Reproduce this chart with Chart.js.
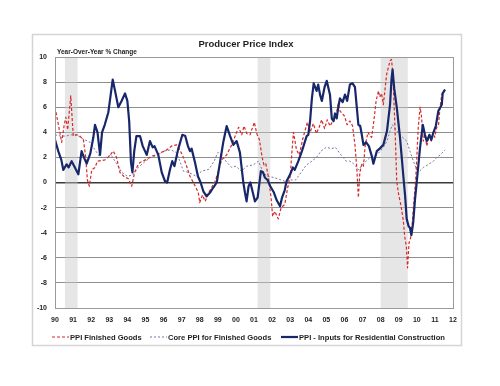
<!DOCTYPE html>
<html>
<head>
<meta charset="utf-8">
<title>Producer Price Index</title>
<script src="https://cdn.jsdelivr.net/npm/chart.js@4"></script>
<style>
  html, body { margin: 0; padding: 0; background: #fff; }
  #chart { display: block; }
</style>
</head>
<body>
<canvas id="chart" width="500" height="386"></canvas>
<script>
// 系列名
const seriesNames = ['PPI Finished Goods', 'Core PPI for Finished Goods', 'PPI - Inputs for Residential Construction'];

// PPI Finished Goods (前年比 %)
const ppiYears = [1990.00, 1990.20, 1990.37, 1990.50, 1990.60, 1990.70, 1990.87, 1991.01, 1991.20, 1991.38, 1991.57, 1991.70, 1991.79, 1991.90,
  1992.03, 1992.21, 1992.35, 1992.76, 1993.00, 1993.22, 1993.40, 1993.59, 1993.80, 1994.05, 1994.24, 1994.40, 1994.55, 1994.70,
  1995.00, 1995.34, 1995.62, 1995.85, 1996.08, 1996.45, 1996.72, 1996.90, 1997.10, 1997.30, 1997.46, 1997.65, 1997.92,
  1998.00, 1998.15, 1998.30, 1998.50, 1998.66, 1998.85, 1999.03, 1999.21, 1999.49, 1999.77, 2000.04, 2000.15, 2000.32, 2000.45,
  2000.60, 2000.78, 2001.02, 2001.15, 2001.30, 2001.45, 2001.55, 2001.65, 2001.79, 2001.95, 2002.03, 2002.15, 2002.34, 2002.50,
  2002.70, 2002.85, 2003.00, 2003.10, 2003.18, 2003.35, 2003.50, 2003.70, 2003.95, 2004.10, 2004.28, 2004.45, 2004.60, 2004.74,
  2004.90, 2005.05, 2005.20, 2005.40, 2005.55, 2005.66, 2005.75, 2006.00, 2006.15, 2006.30, 2006.45, 2006.58, 2006.68, 2006.77,
  2006.85, 2006.97, 2007.05, 2007.15, 2007.30, 2007.42, 2007.50, 2007.60, 2007.75, 2007.88, 2007.95, 2008.05, 2008.15, 2008.33,
  2008.52, 2008.60, 2008.68, 2008.80, 2008.89, 2009.00, 2009.12, 2009.25, 2009.33, 2009.42, 2009.49, 2009.57, 2009.66, 2009.75,
  2009.85, 2009.94, 2010.00, 2010.08, 2010.18, 2010.25, 2010.36, 2010.45, 2010.55, 2010.70, 2010.80, 2010.90, 2010.99, 2011.10,
  2011.20, 2011.28, 2011.38, 2011.47, 2011.56];
const ppiValues = [6.0, 4.5, 3.2, 4.5, 5.2, 4.2, 6.9, 3.7, 3.8, 3.7, 3.4, 2.0, 0.2, -0.3,
  1.0, 1.2, 1.7, 1.8, 2.1, 2.5, 2.0, 0.8, 0.5, 0.3, -0.3, 0.8, 1.3, 1.6,
  1.8, 2.1, 2.2, 2.4, 2.5, 2.9, 3.0, 2.6, 2.0, 1.2, 0.5, 0.0, -0.8,
  -1.6, -1.0, -1.5, -0.8, -0.4, 0.1, 0.9, 1.8, 2.2, 3.0, 4.0, 4.4, 3.8, 4.5,
  3.9, 3.8, 4.8, 3.9, 3.4, 2.0, 1.4, 1.5, 0.5, -1.3, -2.7, -2.3, -2.9, -2.0,
  -1.75, -0.5, 0.5, 2.5, 4.0, 2.6, 2.2, 3.5, 4.8, 4.0, 4.7, 3.9, 4.4, 5.0,
  4.3, 5.0, 4.5, 5.0, 5.4, 6.3, 5.7, 5.3, 4.6, 4.9, 4.5, 3.0, 1.2, -1.2,
  0.8, 1.5, 1.3, 3.0, 4.0, 3.7, 3.6, 4.6, 6.5, 7.3, 6.8, 7.1, 6.2, 8.6,
  9.7, 9.8, 8.6, 4.1, 0.1, -1.0, -1.8, -3.0, -4.3, -5.1, -6.8, -4.8, -4.4, -3.2,
  -1.35, 0.3, 2.0, 4.4, 6.0, 5.4, 3.3, 3.8, 2.9, 3.8, 3.3, 4.0, 3.6, 4.4,
  4.6, 5.95, 7.0, 7.3, 7.4];

// Core PPI for Finished Goods (前年比 %)
const coreYears = [1990.00, 1990.30, 1990.60, 1990.90, 1991.20, 1991.50, 1991.94, 1992.12, 1992.49, 1992.80, 1993.10, 1993.40,
  1993.70, 1994.00, 1994.30, 1994.60, 1995.00, 1995.30, 1995.70, 1996.00, 1996.40, 1996.70, 1996.90, 1997.10, 1997.40,
  1997.80, 1998.10, 1998.50, 1998.80, 1999.00, 1999.20, 1999.50, 1999.77, 2000.00, 2000.30, 2000.60, 2000.96, 2001.24,
  2001.45, 2001.70, 2002.10, 2002.70, 2003.00, 2003.30, 2003.60, 2003.90, 2004.20, 2004.45, 2004.70, 2004.99, 2005.30,
  2005.50, 2005.80, 2006.10, 2006.30, 2006.50, 2006.80, 2006.96, 2007.20, 2007.42, 2007.80, 2008.15, 2008.35, 2008.52,
  2008.65, 2008.80, 2009.07, 2009.44, 2009.62, 2009.81, 2010.00, 2010.15, 2010.36, 2010.60, 2010.92, 2011.10, 2011.30, 2011.56];
const coreValues = [3.8, 3.7, 3.7, 3.8, 3.8, 3.5, 3.2, 2.8, 2.0, 2.0, 2.2, 1.5,
  0.8, 0.5, 0.6, 1.2, 1.7, 2.0, 2.2, 2.5, 2.6, 2.4, 1.7, 0.9, 0.8,
  0.5, 0.9, 1.05, 1.7, 2.4, 2.2, 1.6, 1.2, 1.3, 0.9, 1.3, 1.4, 1.7,
  1.0, 0.5, 0.4, 0.1, 0.2, 0.2, 0.8, 1.4, 1.7, 2.0, 2.5, 2.8, 2.7,
  2.8, 2.2, 1.7, 1.7, 1.5, 1.0, 1.4, 1.7, 2.0, 2.2, 2.8, 3.3, 4.1,
  4.6, 4.3, 3.8, 3.3, 2.5, 1.7, 1.0, 0.9, 1.2, 1.4, 1.7, 2.0, 2.2, 2.6];

// PPI - Inputs for Residential Construction (前年比 %)
const resYears = [1990.00, 1990.18, 1990.35, 1990.46, 1990.64, 1990.75, 1990.92, 1991.10, 1991.29, 1991.47, 1991.60, 1991.75, 1991.95,
  1992.12, 1992.21, 1992.35, 1992.49, 1992.60, 1992.75, 1992.95, 1993.19, 1993.32, 1993.50, 1993.68, 1993.87, 1994.00, 1994.10,
  1994.20, 1994.28, 1994.38, 1994.50, 1994.70, 1994.85, 1995.07, 1995.25, 1995.40, 1995.50, 1995.71, 1995.90, 1996.08, 1996.20,
  1996.35, 1996.48, 1996.60, 1996.80, 1997.04, 1997.20, 1997.35, 1997.46, 1997.55, 1997.74, 1997.90, 1998.05, 1998.20, 1998.38,
  1998.57, 1998.75, 1998.94, 1999.12, 1999.30, 1999.49, 1999.68, 1999.86, 2000.04, 2000.22, 2000.41, 2000.50, 2000.59, 2000.70,
  2000.80, 2000.90, 2001.05, 2001.20, 2001.38, 2001.50, 2001.60, 2001.75, 2001.90, 2002.10, 2002.25, 2002.44, 2002.55, 2002.70,
  2002.80, 2003.00, 2003.15, 2003.25, 2003.45, 2003.65, 2003.91, 2004.00, 2004.10, 2004.20, 2004.30, 2004.46, 2004.55, 2004.65,
  2004.75, 2004.90, 2005.02, 2005.20, 2005.30, 2005.40, 2005.48, 2005.57, 2005.66, 2005.75, 2005.90, 2006.03, 2006.15, 2006.30,
  2006.45, 2006.58, 2006.77, 2006.87, 2006.96, 2007.05, 2007.20, 2007.35, 2007.51, 2007.60, 2007.79, 2007.95, 2008.15, 2008.35,
  2008.52, 2008.60, 2008.66, 2008.75, 2008.89, 2009.07, 2009.25, 2009.35, 2009.44, 2009.55, 2009.62, 2009.70, 2009.80, 2009.90,
  2010.00, 2010.18, 2010.33, 2010.45, 2010.55, 2010.70, 2010.80, 2010.92, 2011.05, 2011.19, 2011.30, 2011.38, 2011.43, 2011.56];
const resValues = [3.4, 2.5, 1.8, 1.0, 1.45, 1.2, 1.7, 1.2, 0.65, 2.5, 2.0, 1.5, 2.3,
  3.6, 4.6, 4.0, 2.2, 4.0, 4.6, 5.6, 8.2, 7.3, 6.0, 6.5, 7.1, 6.5, 4.9,
  1.6, 0.8, 2.5, 3.7, 3.7, 2.9, 2.2, 3.3, 2.8, 2.9, 2.2, 0.8, 0.1, 0.0,
  1.0, 1.7, 1.3, 2.6, 3.8, 3.7, 2.9, 2.5, 2.7, 1.6, 0.5, 0.0, -0.7, -1.1,
  -0.8, -0.4, 0.0, 1.6, 3.2, 4.5, 3.7, 3.0, 3.3, 2.4, 0.0, -0.8, -1.5, -0.3,
  0.0, -0.6, -1.5, -1.2, 0.9, 0.8, 0.4, 0.2, -0.3, -0.8, -1.4, -1.9, -1.2, -0.6,
  0.1, 0.65, 1.2, 1.0, 1.7, 2.5, 3.7, 3.8, 4.9, 6.7, 7.9, 7.3, 7.8, 7.0,
  6.5, 7.6, 8.1, 7.0, 5.1, 4.9, 5.5, 5.1, 6.0, 6.7, 6.4, 7.0, 6.5, 7.8,
  7.9, 7.6, 4.6, 4.5, 3.8, 3.0, 3.2, 2.9, 2.1, 1.5, 2.5, 2.7, 3.0, 4.1,
  6.2, 8.2, 9.0, 7.5, 6.0, 3.6, 0.6, -1.0, -2.9, -3.5, -3.6, -4.2, -3.2, -1.35,
  0.1, 2.8, 4.6, 3.8, 3.3, 3.8, 3.4, 4.0, 4.5, 5.7, 6.0, 6.2, 7.1, 7.4];

// 景気後退期 (網掛け)
const recessionStarts = [1990.55, 2001.2, 2008.0];
const recessionEnds = [1991.25, 2001.9, 2009.5];

// 軸の目盛り
const xMin = 1990, xMax = 2012;
const yMin = -10, yMax = 10, yStep = 2;

const toPoints = (xs, ys) => xs.map((x, i) => ({ x: x, y: ys[i] }));

const FONT = '"Liberation Sans", Arial, sans-serif';
const TEXT = '#1e1e1e';

// 枠・網掛け・タイトル・凡例を描くプラグイン
const decorPlugin = {
    id: 'decor',
    beforeDraw(chart) {
        const ctx = chart.ctx;
        ctx.save();
        ctx.fillStyle = '#ffffff';
        ctx.fillRect(0, 0, chart.width, chart.height);
        ctx.strokeStyle = '#d4d4d4';
        ctx.lineWidth = 1.5;
        ctx.strokeRect(32.5, 34.5, 429, 311);
        ctx.restore();
    },
    beforeDatasetsDraw(chart) {
        const ctx = chart.ctx;
        const area = chart.chartArea;
        const xs = chart.scales.x;
        ctx.save();
        ctx.fillStyle = 'rgba(200,200,200,0.45)';
        recessionStarts.forEach((s, i) => {
            const x0 = xs.getPixelForValue(s);
            const x1 = xs.getPixelForValue(recessionEnds[i]);
            ctx.fillRect(x0, area.top, x1 - x0, area.bottom - area.top);
        });
        ctx.restore();
    },
    afterDraw(chart) {
        const ctx = chart.ctx;
        const area = chart.chartArea;
        ctx.save();
        // プロット枠
        ctx.strokeStyle = '#9a9a9a';
        ctx.lineWidth = 1;
        ctx.strokeRect(area.left + 0.5, area.top + 0.5, area.right - area.left, area.bottom - area.top);

        // タイトル
        ctx.fillStyle = TEXT;
        ctx.textBaseline = 'middle';
        ctx.textAlign = 'center';
        ctx.font = 'bold 9.5px ' + FONT;
        ctx.fillText('Producer Price Index', 246, 44);
        ctx.textAlign = 'left';
        ctx.font = 'bold 6.5px ' + FONT;
        ctx.fillText('Year-Over-Year % Change', 57, 52);

        // 凡例
        const legendX = [52, 150, 281];
        const ly = 337;
        ctx.font = 'bold 7.6px ' + FONT;
        chart.data.datasets.forEach((ds, i) => {
            ctx.strokeStyle = ds.borderColor;
            ctx.lineWidth = ds.borderWidth;
            ctx.setLineDash(ds.borderDash || []);
            ctx.beginPath();
            ctx.moveTo(legendX[i], ly);
            ctx.lineTo(legendX[i] + 17, ly);
            ctx.stroke();
            ctx.setLineDash([]);
            ctx.fillStyle = TEXT;
            ctx.fillText(ds.label, legendX[i] + 18, ly + 0.5);
        });
        ctx.restore();
    }
};

new Chart(document.getElementById('chart'), {
    type: 'line',
    data: {
        datasets: [
            {
                label: seriesNames[0],
                data: toPoints(ppiYears, ppiValues),
                borderColor: '#d42a2a',
                borderWidth: 1.2,
                borderDash: [3, 2],
                order: 2
            },
            {
                label: seriesNames[1],
                data: toPoints(coreYears, coreValues),
                borderColor: '#7474a8',
                borderWidth: 1,
                borderDash: [2, 2],
                order: 3
            },
            {
                label: seriesNames[2],
                data: toPoints(resYears, resValues),
                borderColor: '#18266a',
                borderWidth: 2.2,
                order: 1
            }
        ]
    },
    options: {
        responsive: false,
        animation: false,
        parsing: true,
        elements: {
            point: { radius: 0 },
            line: { tension: 0, borderJoinStyle: 'round' }
        },
        layout: { padding: { left: 33, right: 47, top: 57, bottom: 58 } },
        plugins: {
            legend: { display: false },
            title: { display: false },
            tooltip: { enabled: false }
        },
        scales: {
            x: {
                type: 'linear',
                min: xMin,
                max: xMax,
                afterFit: (scale) => { scale.height = 20; },
                grid: { display: false, drawTicks: false },
                border: { display: false },
                ticks: {
                    stepSize: 1,
                    autoSkip: false,
                    maxRotation: 0,
                    padding: 8,
                    color: TEXT,
                    font: { family: FONT, size: 7, weight: 'bold' },
                    callback: (v) => String(v % 100).padStart(2, '0')
                }
            },
            y: {
                min: yMin,
                max: yMax,
                afterFit: (scale) => { scale.width = 22; },
                grid: {
                    drawTicks: false,
                    color: (c) => c.tick && c.tick.value === 0 ? '#3a3a3a' : '#8e8e8e',
                    lineWidth: (c) => c.tick && c.tick.value === 0 ? 1.6 : 1
                },
                border: { display: false },
                ticks: {
                    stepSize: yStep,
                    padding: 8,
                    color: TEXT,
                    font: { family: FONT, size: 7, weight: 'bold' }
                }
            }
        }
    },
    plugins: [decorPlugin]
});
</script>
</body>
</html>
